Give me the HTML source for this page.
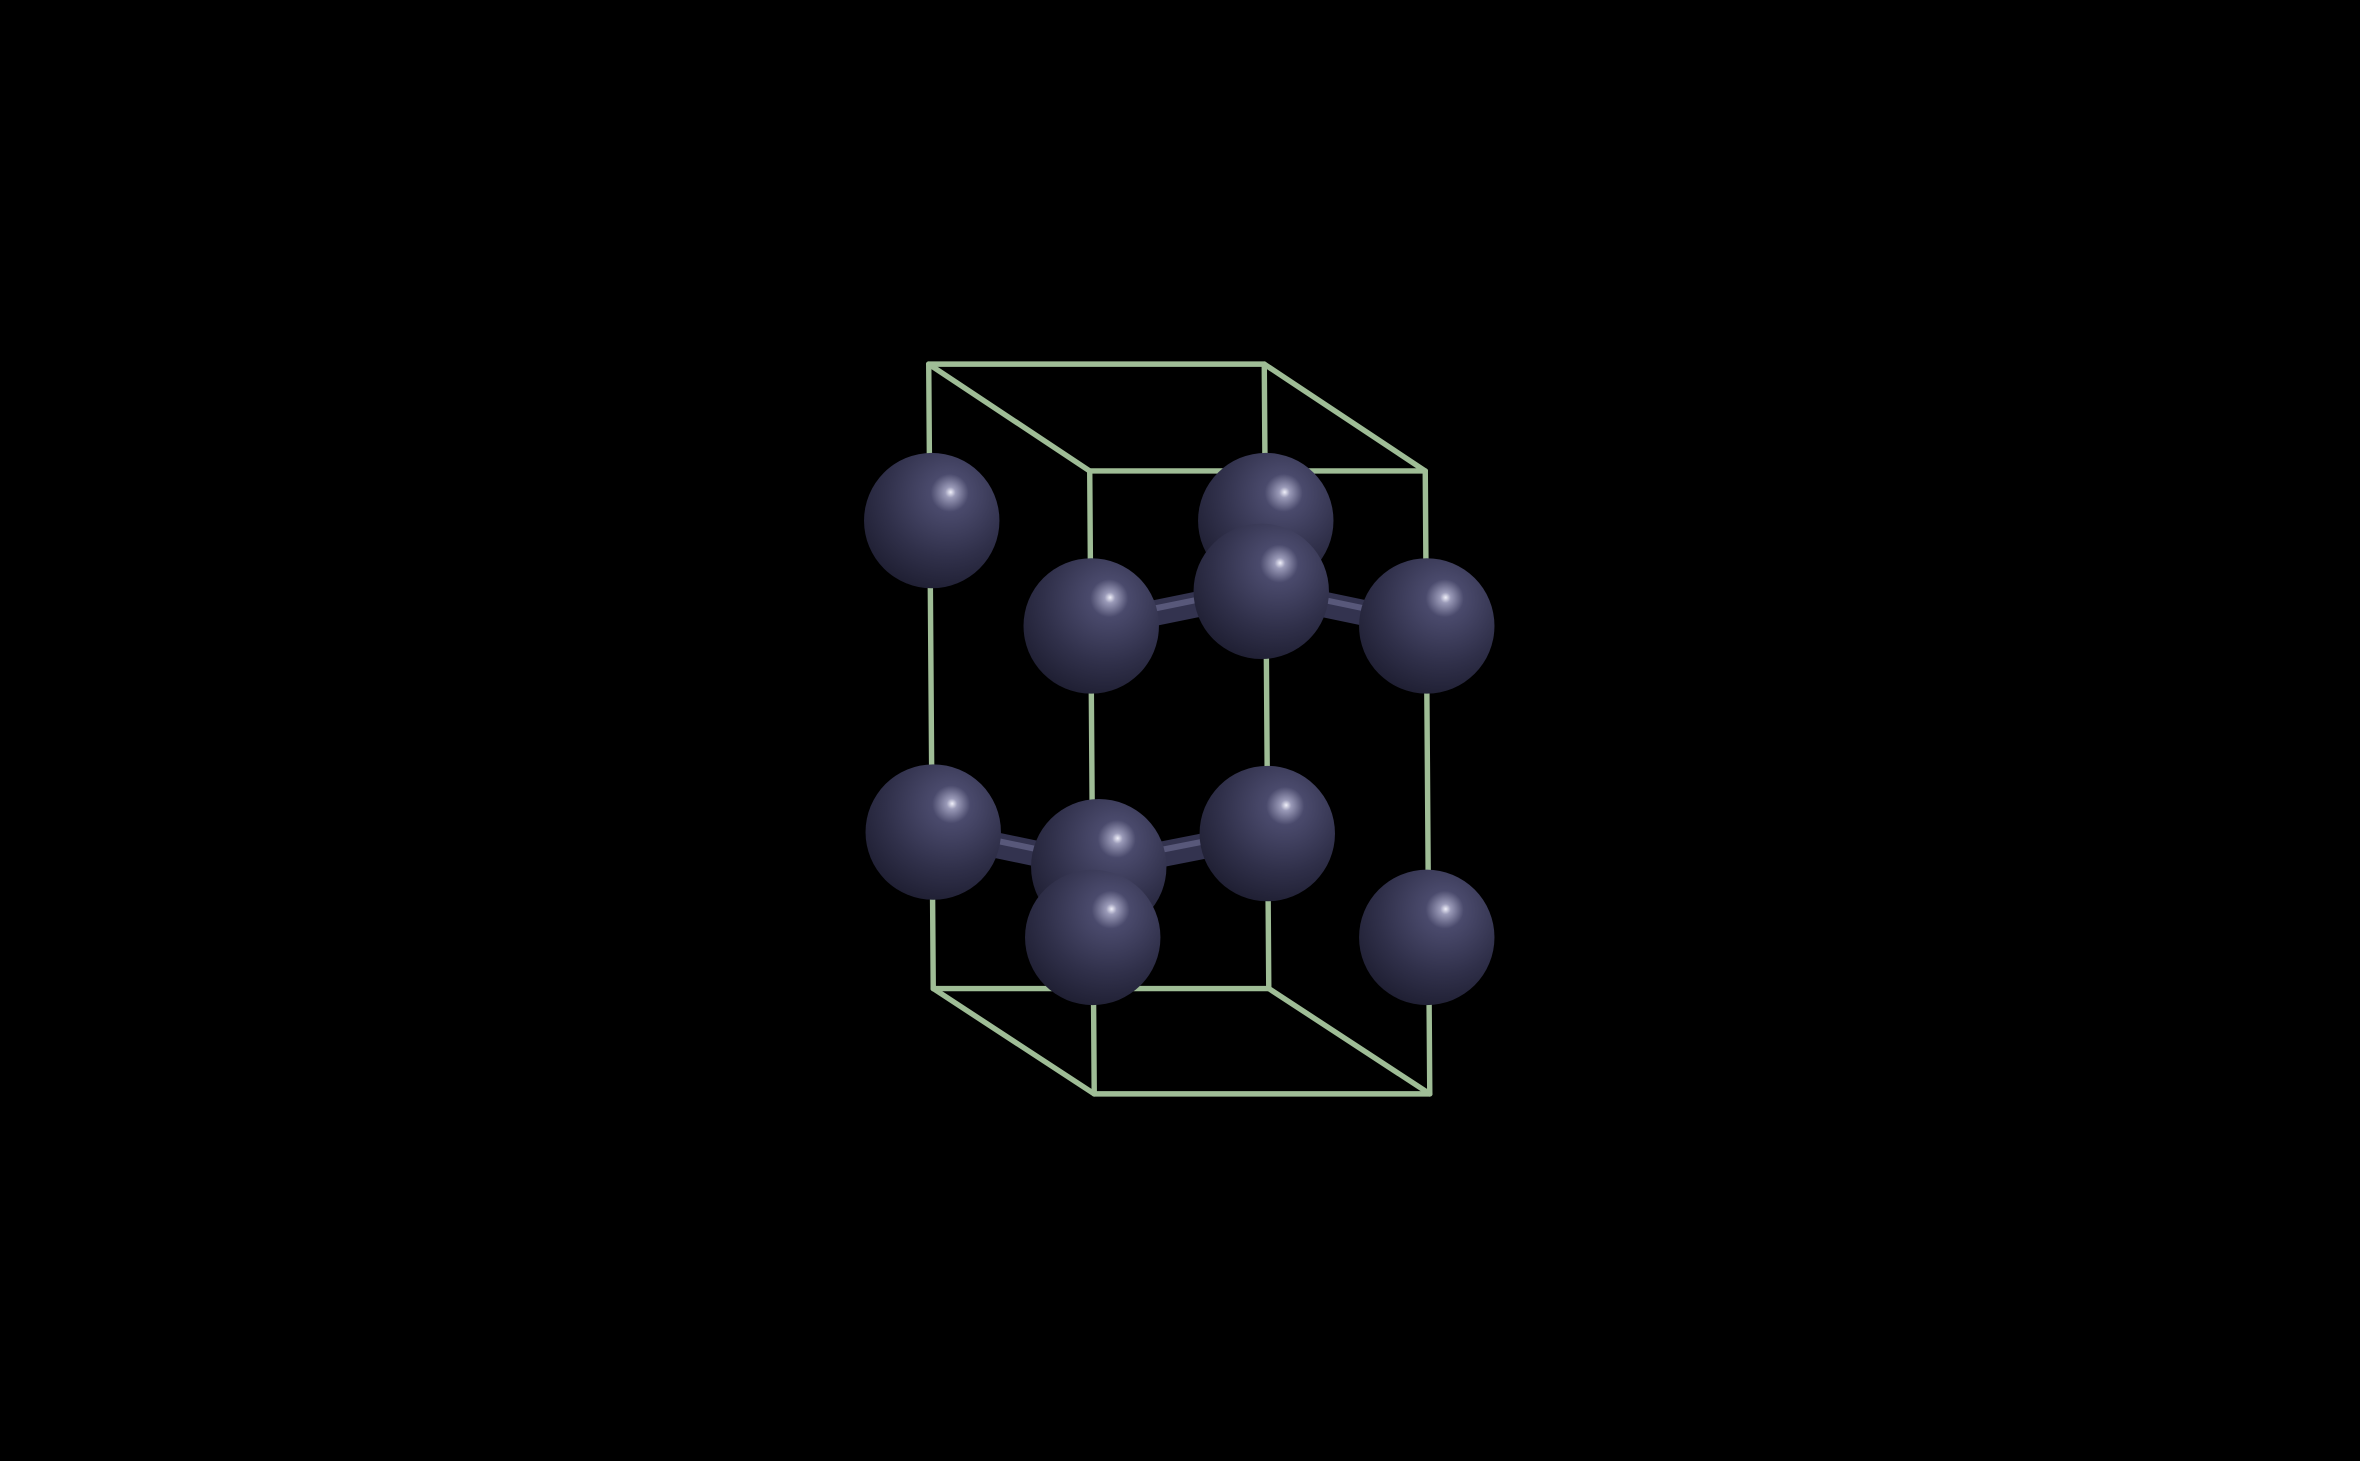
<!DOCTYPE html>
<html><head><meta charset="utf-8"><style>
html,body{margin:0;padding:0;background:#000;width:2360px;height:1461px;overflow:hidden}
svg{display:block}
</style></head><body>
<svg id="scene" width="2360" height="1461" viewBox="0 0 1568 971" xmlns="http://www.w3.org/2000/svg">
<defs>
<radialGradient id="atomGrad" cx="0.6" cy="0.32" r="0.78" fx="0.64" fy="0.29">
<stop offset="0" stop-color="#f0f0fa"/>
<stop offset="0.05" stop-color="#9a9ab8"/>
<stop offset="0.18" stop-color="#4a4a6c"/>
<stop offset="0.6" stop-color="#30304a"/>
<stop offset="0.9" stop-color="#202034"/>
<stop offset="1" stop-color="#141424"/>
</radialGradient>
</defs>
<rect width="1568" height="971" fill="#000"/>
<g id="cell"></g>
<g id="bonds"></g>
<g id="atoms"></g>
</svg>
<script>
const NS='http://www.w3.org/2000/svg';
const vertices=[[617,242],[840,242],[947,313],[724,313],[620,657],[843,657],[950,727],[727,727]];
const edges=[[0,1],[1,2],[2,3],[3,0],[4,5],[5,6],[6,7],[7,4],[0,4],[1,5],[2,6],[3,7]];
const atoms=[[841,346],[619,346],[842,554],[620,553],[838,393],[730,576],[725,416],[948,416],[726,623],[948,623]];
const bonds=[[6,4],[4,7],[3,5],[5,2]];
const R=45;
const cell=document.getElementById('cell');
edges.forEach((e,i)=>{
  const l=document.createElementNS(NS,'line');
  l.setAttribute('x1',vertices[e[0]][0]);l.setAttribute('y1',vertices[e[0]][1]);
  l.setAttribute('x2',vertices[e[1]][0]);l.setAttribute('y2',vertices[e[1]][1]);
  l.setAttribute('stroke','#9fbd96');l.setAttribute('stroke-width','3.6');l.setAttribute('stroke-linecap','round');
  
  
  cell.appendChild(l);
});
const bg=document.getElementById('bonds');
bonds.forEach(b=>{
  const a=atoms[b[0]],c=atoms[b[1]];
  const l=document.createElementNS(NS,'line');
  l.setAttribute('x1',a[0]);l.setAttribute('y1',a[1]);l.setAttribute('x2',c[0]);l.setAttribute('y2',c[1]);
  l.setAttribute('stroke','#33334f');l.setAttribute('stroke-width','17');
  
  
  bg.appendChild(l);
  const h=document.createElementNS(NS,'line');
  h.setAttribute('x1',a[0]);h.setAttribute('y1',a[1]-3);h.setAttribute('x2',c[0]);h.setAttribute('y2',c[1]-3);
  h.setAttribute('stroke','#58587a');h.setAttribute('stroke-width','4');
  
  
  bg.appendChild(h);
});
const ag=document.getElementById('atoms');
atoms.forEach(a=>{
  const c=document.createElementNS(NS,'circle');
  c.setAttribute('cx',a[0]);c.setAttribute('cy',a[1]);c.setAttribute('r',R);
  c.setAttribute('fill','url(#atomGrad)');
  
  
  ag.appendChild(c);
});
</script>
</body></html>
